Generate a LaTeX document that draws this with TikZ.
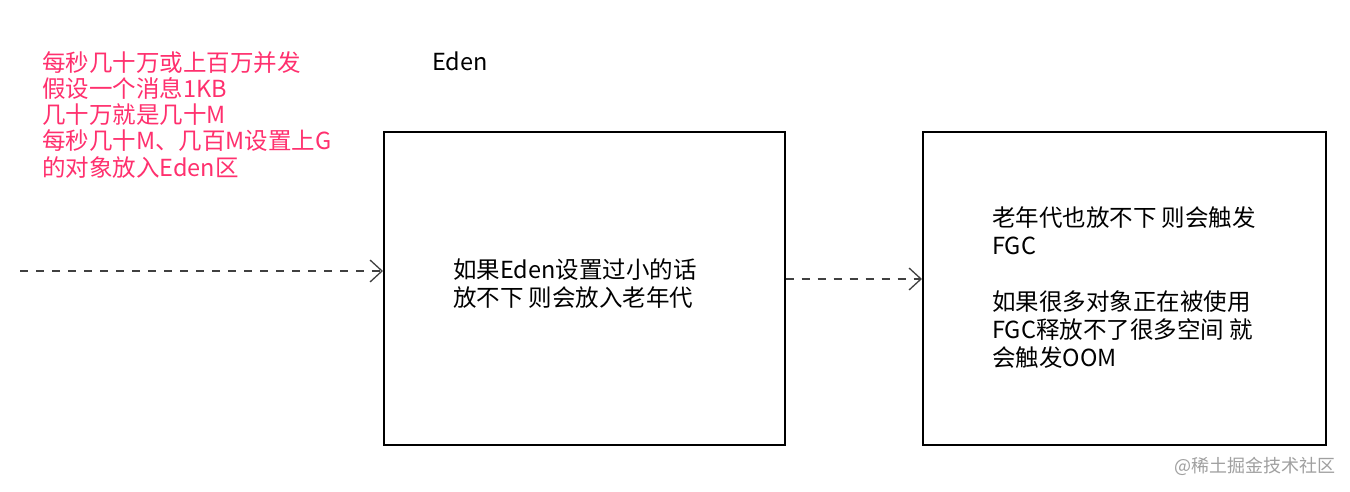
\documentclass[tikz,border=0pt]{standalone}
\usepackage{fontspec}
\setmainfont{Noto Sans CJK SC}
\usetikzlibrary{arrows.meta}
\definecolor{pinkred}{RGB}{255,48,110}
\definecolor{wm}{RGB}{160,160,160}
\tikzset{
  region/.style={draw=black, line width=1.6pt},
  flow/.style={draw=black!75, line width=1.4pt, dash pattern=on 8pt off 8pt, -{Straight Barb[length=12pt,width=22pt,line width=1.3pt]}},
  txt/.style={anchor=north west, align=left, inner sep=0pt, font=\fontsize{23.5}{28}\selectfont},
}
\begin{document}
\begin{tikzpicture}[x=1pt,y=-1pt]
\useasboundingbox (0,0) rectangle (1350,492);
\fill[white] (0,0) rectangle (1350,492);
\node[region, minimum width=401pt, minimum height=313pt, anchor=north west] (eden) at (383,131) {};
\node[region, minimum width=403pt, minimum height=313pt, anchor=north west] (old) at (922,131) {};
\coordinate (src) at (20,271);
\draw[flow] (src) -- (eden.west |- src);
\coordinate (e1) at (eden.east |- 0,279);
\draw[flow] (e1) -- (old.west |- e1);
\node[txt, text=pinkred, font=\fontsize{23.5}{26.3}\selectfont] (note) at (42,51) {每秒几十万或上百万并发\\假设一个消息1KB\\几十万就是几十M\\每秒几十M、几百M设置上G\\的对象放入Eden区};
\node[txt] (edenlbl) at (432,52) {Eden};
\node[txt] (edentxt) at (453,258) {如果Eden设置过小的话\\放不下 则会放入老年代};
\node[txt] (oldtxt) at (992,206) {老年代也放不下 则会触发\\FGC\\[28pt]如果很多对象正在被使用\\FGC释放不了很多空间 就\\会触发OOM};
\node[anchor=east, inner sep=0pt, text=wm, font=\fontsize{18}{20}\selectfont] (mark) at (1336,466) {@稀土掘金技术社区};
\end{tikzpicture}
\end{document}
